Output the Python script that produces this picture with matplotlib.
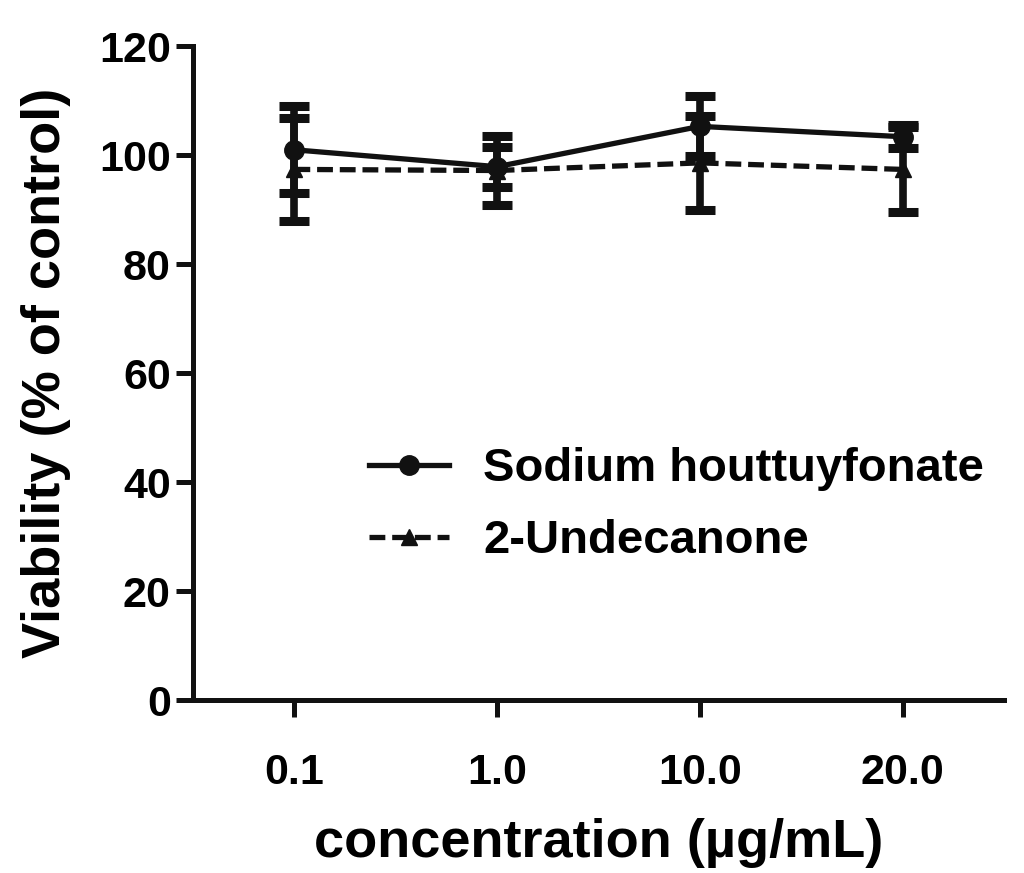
import matplotlib
matplotlib.use("Agg")
import matplotlib.pyplot as plt
from matplotlib.lines import Line2D

plt.rcParams['font.family'] = ['Liberation Sans', 'DejaVu Sans']
plt.rcParams['font.weight'] = 'bold'

# dados
concentracoes = ["0.1", "1.0", "10.0", "20.0"]
sodium = [101.0, 97.9, 105.3, 103.4]
sodium_sd = [8.0, 3.7, 5.5, 2.1]
undecanone = [97.4, 97.2, 98.6, 97.4]
undecanone_sd = [9.4, 6.3, 8.6, 7.8]

cor = "#111111"

fig = plt.figure(figsize=(10.24, 8.73), dpi=100)
ax = fig.add_axes([0.1885, 0.198, 0.792, 0.749])

x = list(range(len(concentracoes)))

# linha tracejada (2-Undecanone)
ax.errorbar(x, undecanone, yerr=undecanone_sd, color=cor, lw=3.8,
            dashes=(3.0, 1.3), marker="^", ms=11, capsize=11, capthick=6.5,
            elinewidth=5.5, zorder=2)
# linha continua (Sodium houttuyfonate)
ax.errorbar(x, sodium, yerr=sodium_sd, color=cor, lw=3.8,
            marker="o", ms=14, capsize=11, capthick=6.5, elinewidth=5.5,
            zorder=3)

ax.set_xlim(-0.5, 3.5)
ax.set_ylim(0, 120)
ax.set_yticks([0, 20, 40, 60, 80, 100, 120])
ax.set_xticks(x)
ax.set_xticklabels(concentracoes)

for lado in ["top", "right"]:
    ax.spines[lado].set_visible(False)
for lado in ["left", "bottom"]:
    ax.spines[lado].set_linewidth(3.6)
    ax.spines[lado].set_color(cor)

ax.tick_params(axis="both", width=3.6, length=12, labelsize=31, color=cor)
ax.tick_params(axis="x", pad=26)
ax.tick_params(axis="y", pad=4)

ax.set_xlabel("concentration (µg/mL)", fontsize=39, fontweight="bold", labelpad=18)
ax.set_ylabel("Viability (% of control)", fontsize=39, fontweight="bold", labelpad=20)

# legenda sem as barras de erro
h1 = Line2D([], [], color=cor, lw=3.8, marker="o", ms=14)
h2 = Line2D([], [], color=cor, lw=3.8, dashes=(3.0, 1.3), marker="^", ms=11)
ax.legend([h1, h2], ["Sodium houttuyfonate", "2-Undecanone"], loc="center left",
          bbox_to_anchor=(0.205, 0.298), frameon=False, fontsize=34,
          handlelength=1.7, handletextpad=0.72, labelspacing=0.6,
          borderpad=0.2, borderaxespad=0.0)

fig.savefig("out.png", dpi=100)
